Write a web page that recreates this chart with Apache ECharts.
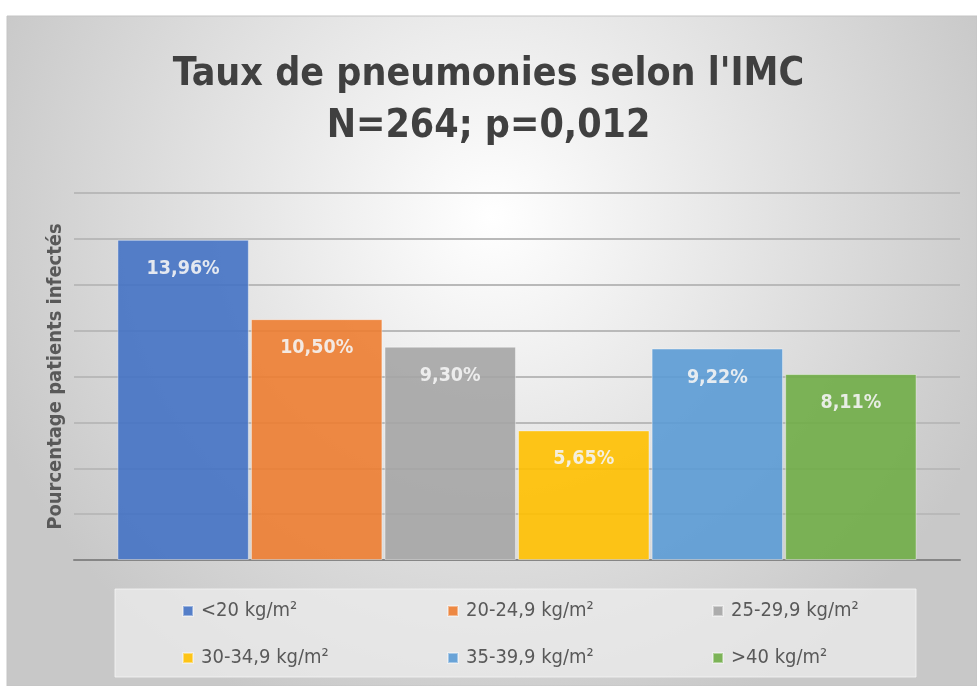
<!DOCTYPE html>
<html>
<head>
<meta charset="utf-8">
<script src="https://cdn.jsdelivr.net/npm/echarts@6/dist/echarts.min.js"></script>
<style>
  html, body { margin: 0; padding: 0; background: #fff; }
  #main { width: 977px; height: 686px; }
</style>
</head>
<body>
<div id="main"></div>
<script>
(function(){
    // données
    var categories = ['<20 kg/m²', '20-24,9 kg/m²', '25-29,9 kg/m²', '30-34,9 kg/m²', '35-39,9 kg/m²', '>40 kg/m²'];
    var values = [13.96, 10.50, 9.30, 5.65, 9.22, 8.11];
    var labels = ['13,96%', '10,50%', '9,30%', '5,65%', '9,22%', '8,11%'];
    var colors = ['#4472C4', '#ED7D31', '#A5A5A5', '#FFC000', '#5B9BD5', '#70AD47'];

    var FONT = "'DejaVu Sans Condensed', 'DejaVu Sans', sans-serif";

    var myChart = echarts.init(document.getElementById('main'));

    var series = categories.map(function(name, i){
      return {
        name: name,
        type: 'bar',
        data: [values[i]],
        barGap: '1.6%',
        barCategoryGap: '9.8%',
        itemStyle: {
          color: colors[i],
          opacity: 0.9,
          borderColor: 'rgba(255,255,255,0.45)',
          borderWidth: 1
        },
        label: {
          show: true,
          position: 'insideTop',
          distance: 19,
          formatter: labels[i],
          color: '#f4f4f4',
          fontFamily: FONT,
          fontWeight: 'bold',
          fontSize: 19.5
        }
      };
    });

    // légende : 3 colonnes x 2 lignes
    function legendCol(names, left){
      return {
        orient: 'vertical',
        left: left,
        top: 601,
        padding: 0,
        itemWidth: 10,
        itemHeight: 10,
        itemGap: 27,
        icon: 'rect',
        data: names,
        textStyle: {
          color: '#595959',
          fontFamily: FONT,
          fontSize: 20,
          lineHeight: 20,
          padding: [0, 0, 0, 3]
        }
      };
    }

    var option = {
      color: colors,
      graphic: [
        {
          type: 'rect',
          z: -10,
          shape: { x: 7, y: 16, width: 970, height: 670 },
          style: {
            fill: new echarts.graphic.RadialGradient(0.5, 0.3, 0.8, [
              { offset: 0, color: '#ffffff' },
              { offset: 1, color: '#c8c8c8' }
            ]),
            stroke: '#c4c4c4',
            lineWidth: 1
          }
        },
        {
          type: 'rect',
          z: -9,
          shape: { x: 115, y: 589, width: 801, height: 88 },
          style: {
            fill: 'rgba(236,236,236,0.75)',
            stroke: 'rgba(245,245,245,0.8)',
            lineWidth: 1
          }
        }
      ],
      title: {
        text: "Taux de pneumonies selon l'IMC\nN=264; p=0,012",
        left: 'center',
        top: 44,
        textStyle: {
          color: '#404040',
          fontFamily: FONT,
          fontWeight: 'bold',
          fontSize: 39,
          lineHeight: 52
        }
      },
      legend: [
        legendCol([categories[0], categories[3]], 182),
        legendCol([categories[1], categories[4]], 447),
        legendCol([categories[2], categories[5]], 712)
      ],
      grid: {
        left: 74,
        right: 17,
        top: 193,
        bottom: 126
      },
      xAxis: {
        type: 'category',
        data: [''],
        axisTick: { show: false },
        axisLabel: { show: false },
        axisLine: {
          lineStyle: { color: '#868686', width: 2 }
        }
      },
      yAxis: {
        type: 'value',
        min: 0,
        max: 16,
        interval: 2,
        name: 'Pourcentage patients infectés',
        nameLocation: 'middle',
        nameGap: 8,
        nameTextStyle: {
          color: '#595959',
          fontFamily: FONT,
          fontWeight: 'bold',
          fontSize: 20
        },
        axisLabel: { show: false },
        axisTick: { show: false },
        axisLine: { show: false },
        splitLine: {
          lineStyle: { color: '#b9b9b9', width: 2 }
        }
      },
      series: series
    };

    myChart.setOption(option);
    window.addEventListener('resize', function(){
      myChart.resize();
    });
})();
</script>
</body>
</html>
